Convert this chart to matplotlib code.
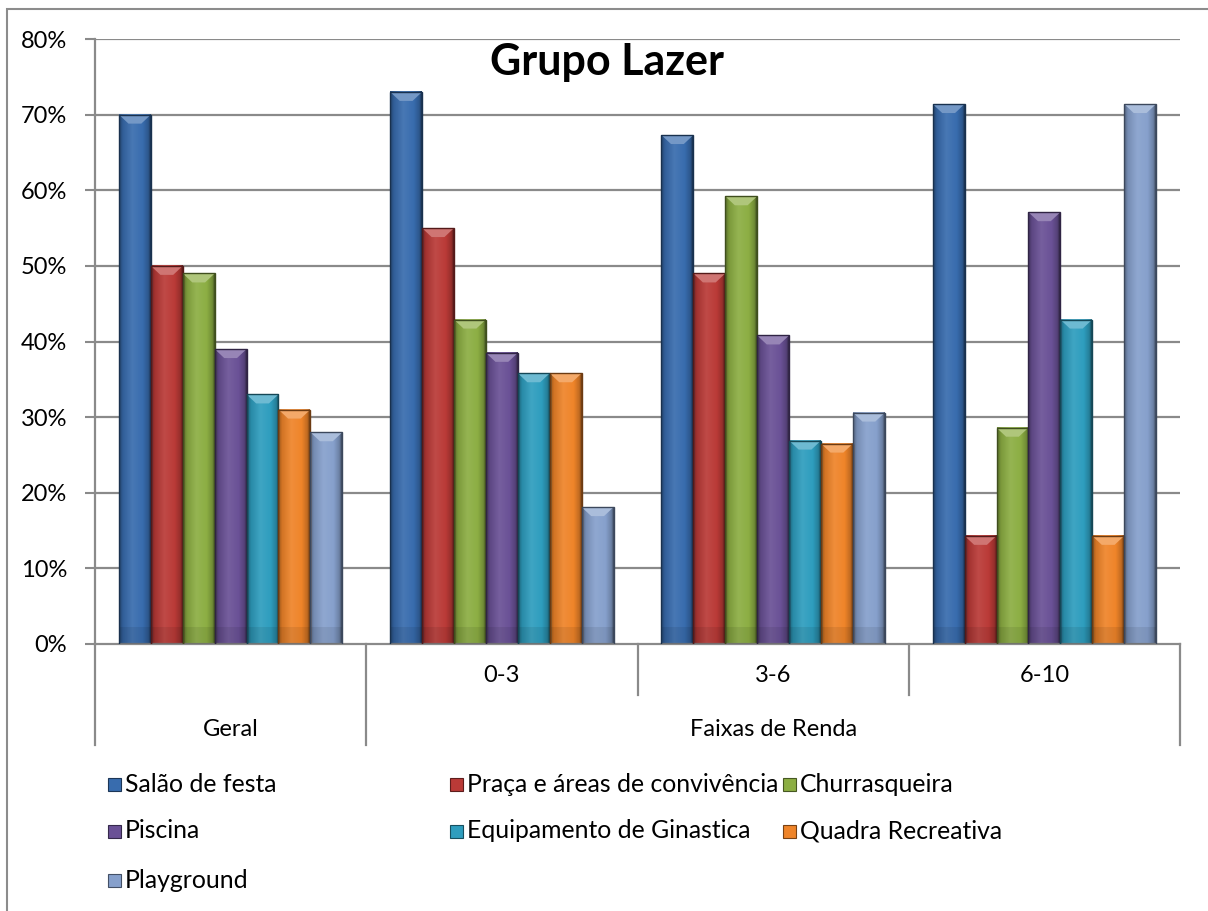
import numpy as np
import matplotlib.pyplot as plt
from matplotlib.colors import LinearSegmentedColormap, to_rgb
from matplotlib.patches import Polygon, Rectangle
import matplotlib.transforms as mtransforms

plt.rcParams['font.family'] = ['Lato', 'DejaVu Sans']

## Dados
grupos = ['Geral', '0-3', '3-6', '6-10']
subrotulos = ['', '0-3', '3-6', '6-10']
series = ['Salão de festa', 'Praça e áreas de convivência', 'Churrasqueira',
          'Piscina', 'Equipamento de Ginastica', 'Quadra Recreativa', 'Playground']
salao = [70.0, 73.0, 67.3, 71.4]
praca = [50.0, 55.0, 49.0, 14.3]
churrasqueira = [49.0, 42.9, 59.2, 28.6]
piscina = [39.0, 38.5, 40.8, 57.1]
ginastica = [33.0, 35.8, 26.9, 42.9]
quadra = [31.0, 35.8, 26.5, 14.3]
playground = [28.0, 18.1, 30.6, 71.4]
valores = [salao, praca, churrasqueira, piscina, ginastica, quadra, playground]

cores = ['#386CAE', '#BA3A37', '#8CAE43', '#6A5196', '#2E9DBE', '#EF8429', '#86A0CC']

W, H = 1208, 911
fig = plt.figure(figsize=(W / 100, H / 100), dpi=100)

# moldura externa do grafico
fig.patches.append(Rectangle((7 / W, -0.05), 1.1, (H - 9) / H + 0.05,
                             transform=fig.transFigure, fill=False,
                             edgecolor='#8c8c8c', linewidth=1.5))

x0, x1, ytop, ybot = 95, 1180, 39, 644
ax = fig.add_axes([x0 / W, (H - ybot) / H, (x1 - x0) / W, (ybot - ytop) / H])
ax.set_xlim(-0.5, len(grupos) - 0.5)
ax.set_ylim(0, 80)

# grade
cinza = '#8a8a8a'
for v in range(10, 90, 10):
    ax.axhline(v, color=cinza, linewidth=1.6, zorder=0)
ax.set_yticks(np.arange(0, 81, 10))
ax.set_yticklabels([f'{v}%' for v in range(0, 81, 10)], fontsize=17)
ax.tick_params(axis='y', length=7, width=1.5, color=cinza, pad=13)
ax.set_xticks([])
for s in ['top', 'right']:
    ax.spines[s].set_visible(False)
ax.spines['left'].set_color(cinza)
ax.spines['left'].set_linewidth(1.6)
ax.spines['bottom'].set_color(cinza)
ax.spines['bottom'].set_linewidth(1.6)


def clarear(c, f):
    c = np.array(to_rgb(c))
    return tuple(c + (1 - c) * f)


def escurecer(c, f):
    return tuple(np.array(to_rgb(c)) * f)


def gradiente(c):
    return LinearSegmentedColormap.from_list('g', [
        (0.0, escurecer(c, 0.62)), (0.12, escurecer(c, 0.88)),
        (0.42, clarear(c, 0.08)), (0.75, c), (0.93, escurecer(c, 0.8)),
        (1.0, escurecer(c, 0.45))])


largura = 1 / 8.5
grad = np.linspace(0, 1, 64).reshape(1, -1)
px_y = 80 / (ybot - ytop)
for i, (nome, vals) in enumerate(zip(series, valores)):
    cmap = gradiente(cores[i])
    for g, v in enumerate(vals):
        xe = g - 3.5 * largura + i * largura
        xd = xe + largura
        ax.imshow(grad, cmap=cmap, aspect='auto', extent=(xe, xd, 0, v),
                  interpolation='bilinear', zorder=2)
        # sombra na base
        ax.add_patch(Rectangle((xe, 0), largura, 2.2, color='black', alpha=0.08,
                               linewidth=0, zorder=3))
        # chanfro no topo
        h = 9 * px_y
        ax.add_patch(Polygon([(xe, v), (xd, v), (xd - largura * 0.3, v - h),
                              (xe + largura * 0.3, v - h)],
                             closed=True, facecolor=clarear(cores[i], 0.3),
                             edgecolor='none', zorder=3))
        ax.add_patch(Rectangle((xe, 0), largura, v, fill=False,
                               edgecolor=escurecer(cores[i], 0.45),
                               linewidth=1.0, zorder=4))

ax.text(0.472, 0.962, 'Grupo Lazer', transform=ax.transAxes, ha='center',
        va='center', fontsize=31, fontweight='bold')

# eixo de categorias em dois niveis
trans = mtransforms.blended_transform_factory(ax.transData, ax.transAxes)
alto = (ybot - ytop)
longo = -(745 - ybot) / alto
curto = -(695 - ybot) / alto
for xs, yb in [(-0.5, longo), (0.5, longo), (1.5, curto), (2.5, curto), (3.5, longo)]:
    ax.plot([xs, xs], [0, yb], transform=trans, color=cinza, linewidth=1.6,
            clip_on=False)
for g, r in enumerate(subrotulos):
    if r:
        ax.text(g, -(676 - ybot) / alto, r, transform=trans, ha='center',
                va='center', fontsize=17)
ax.text(0, -(730 - ybot) / alto, 'Geral', transform=trans, ha='center',
        va='center', fontsize=17)
ax.text(2, -(730 - ybot) / alto, 'Faixas de Renda', transform=trans,
        ha='center', va='center', fontsize=17)

# legenda
colunas = [108, 450, 783]
linhas = [784, 831, 880]
lado = 13
for i, nome in enumerate(series):
    cx = colunas[i % 3]
    cy = linhas[i // 3]
    fig.patches.append(Rectangle((cx / W, (H - cy - lado / 2) / H), lado / W, lado / H,
                                 transform=fig.transFigure,
                                 facecolor=cores[i],
                                 edgecolor=escurecer(cores[i], 0.5), linewidth=0.8))
    fig.text((cx + lado + 4) / W, (H - cy) / H, nome, ha='left', va='center',
             fontsize=17.8)

fig.savefig('out.png', dpi=100)
